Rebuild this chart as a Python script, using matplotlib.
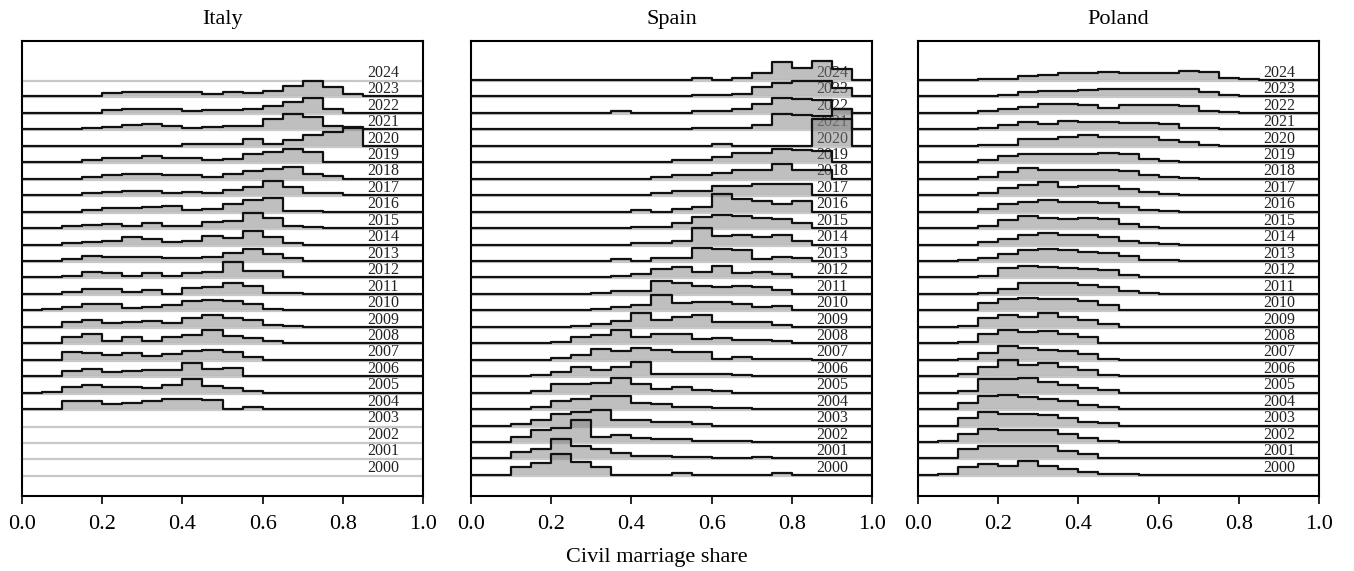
import numpy as np
import matplotlib
matplotlib.use('Agg')
import matplotlib.pyplot as plt

plt.rcParams['font.family'] = ['Liberation Serif', 'DejaVu Serif']

years = list(range(2000, 2025))
bin_edges = np.linspace(0, 1, 21)   # 20 bins of 0.05
xticks = [0.0, 0.2, 0.4, 0.6, 0.8, 1.0]

# histogram density per 0.05 bin of civil marriage share (years missing = no data)
italy = {
    2004: [0, 0, 2.1, 2.1, 1.4, 1.8, 2.3, 2.7, 2.9, 2.5, 0, 0.5, 0, 0, 0, 0, 0, 0, 0, 0],
    2005: [0, 0.3, 1.5, 2.1, 1.6, 1.5, 1.2, 2.1, 3.6, 1.9, 1.2, 0.5, 0, 0, 0, 0, 0, 0, 0, 0],
    2006: [0, 0, 1.4, 1.9, 1.2, 1.4, 1.6, 1.8, 3.5, 2.1, 2.3, 0, 0, 0, 0, 0, 0, 0, 0, 0],
    2007: [0, 0, 2.1, 1.8, 1.2, 1.9, 1.0, 1.6, 2.5, 2.8, 2.1, 0.7, 0, 0, 0, 0, 0, 0, 0, 0],
    2008: [0, 0, 1.6, 2.5, 0.7, 1.6, 0.5, 1.6, 2.3, 3.6, 2.0, 1.5, 0.6, 0, 0, 0, 0, 0, 0, 0],
    2009: [0, 0, 1.4, 1.8, 1.1, 1.3, 1.5, 1.1, 2.5, 3.2, 2.5, 2.0, 0.5, 0.3, 0, 0, 0, 0, 0, 0],
    2010: [0, 0.3, 0.9, 1.8, 1.7, 0.7, 0.9, 1.4, 2.7, 2.9, 2.7, 1.8, 0.5, 0, 0, 0, 0, 0, 0, 0],
    2011: [0, 0, 0.4, 1.4, 1.4, 0.5, 1.2, 0.1, 1.6, 1.8, 3.0, 2.3, 0.3, 0.2, 0, 0, 0, 0, 0, 0],
    2012: [0, 0, 0.5, 1.6, 1.1, 0.5, 1.2, 0.3, 1.1, 1.5, 4.3, 1.9, 1.8, 0, 0, 0, 0, 0, 0, 0],
    2013: [0, 0, 0.5, 1.4, 1.1, 1.1, 1.1, 0.7, 0.7, 1.1, 2.3, 3.2, 1.8, 0.7, 0, 0, 0, 0, 0, 0],
    2014: [0, 0, 0.3, 0.7, 1.1, 2.0, 1.4, 0.7, 0.9, 2.3, 1.8, 3.6, 2.0, 0.5, 0, 0, 0, 0, 0, 0],
    2015: [0, 0, 0.5, 0.9, 1.1, 0.7, 1.3, 0.5, 0.5, 1.6, 2.0, 4.1, 2.7, 0.7, 0.3, 0, 0, 0, 0, 0],
    2016: [0, 0, 0, 0.5, 0.9, 1.1, 1.4, 1.6, 0.5, 0.7, 2.0, 3.2, 3.6, 0.3, 0.2, 0, 0, 0, 0, 0],
    2017: [0, 0, 0, 0.5, 0.9, 1.2, 1.2, 0.7, 0.9, 0.5, 1.4, 2.3, 3.8, 2.3, 0.7, 0.5, 0, 0, 0, 0],
    2018: [0, 0, 0, 0.5, 1.1, 1.4, 1.4, 0.9, 0.9, 0.5, 1.4, 2.0, 2.7, 3.2, 1.4, 0.7, 0, 0, 0, 0],
    2019: [0, 0, 0, 0.5, 1.1, 1.1, 1.8, 1.1, 1.1, 0.7, 0.9, 2.3, 2.7, 3.5, 2.8, 0.2, 0, 0, 0, 0],
    2020: [0, 0, 0, 0, 0, 0, 0, 0, 0.4, 0.4, 0.4, 1.8, 0.4, 1.5, 3.0, 3.9, 5.1, 0, 0, 0],
    2021: [0, 0, 0, 0.5, 0.7, 1.2, 1.6, 0.9, 0.5, 0.7, 0.9, 0.9, 2.8, 4.2, 3.5, 0.9, 0.5, 0, 0, 0],
    2022: [0, 0, 0, 0, 0.7, 1.2, 1.2, 1.2, 0.5, 0.7, 0.9, 1.2, 1.9, 3.0, 4.1, 1.2, 0, 0, 0, 0],
    2023: [0, 0, 0, 0, 0.9, 1.3, 1.3, 1.3, 1.3, 0.7, 1.3, 0.9, 1.6, 2.9, 4.3, 2.7, 0.6, 0, 0, 0],
}

spain = {
    2000: [0, 0, 2.3, 3.4, 5.7, 3.6, 2.1, 0, 0, 0, 0.4, 0, 0, 0, 0, 0.4, 0, 0, 0, 0],
    2001: [0, 0, 1.8, 2.6, 5.2, 3.4, 2.5, 1.5, 0.6, 0.6, 0.4, 0.3, 0, 0, 0.4, 0, 0, 0, 0, 0],
    2002: [0, 0, 1.5, 3.2, 3.8, 5.9, 1.5, 1.8, 1.1, 0.9, 0.7, 0.3, 0.3, 0.4, 0, 0, 0, 0, 0, 0],
    2003: [0, 0, 0.4, 1.5, 3.2, 3.8, 4.3, 1.5, 1.5, 1.1, 1.1, 0.4, 0, 0, 0, 0, 0, 0, 0, 0],
    2004: [0, 0, 0, 0.7, 2.1, 2.7, 3.5, 3.5, 1.6, 1.4, 0.7, 0.7, 0.3, 0.3, 0, 0, 0, 0, 0, 0],
    2005: [0, 0, 0, 0.4, 2.4, 2.4, 2.7, 3.9, 2.5, 0.9, 1.6, 0.7, 0.5, 0, 0, 0, 0, 0, 0, 0],
    2006: [0, 0, 0, 0.3, 1.2, 2.4, 1.6, 2.5, 3.9, 0.5, 0.5, 0.5, 0.5, 0.3, 0, 0, 0, 0, 0, 0],
    2007: [0, 0, 0, 0, 0.5, 1.2, 3.0, 2.4, 3.3, 2.7, 2.1, 2.1, 0.3, 0.7, 0.3, 0.3, 0.3, 0, 0, 0],
    2008: [0, 0, 0, 0, 0.4, 1.6, 2.2, 3.5, 1.6, 2.5, 2.5, 1.2, 1.5, 0.9, 0.9, 0.7, 0, 0, 0, 0],
    2009: [0, 0, 0, 0, 0, 0.3, 0.9, 1.5, 3.8, 1.8, 2.7, 3.2, 1.4, 1.3, 1.2, 0.5, 0, 0, 0, 0],
    2010: [0, 0, 0, 0, 0, 0, 0.4, 0.9, 1.5, 4.1, 2.0, 2.3, 2.3, 1.8, 0.9, 1.3, 0, 0, 0, 0],
    2011: [0, 0, 0, 0, 0, 0, 0.3, 0.7, 0.8, 3.6, 2.9, 2.3, 2.0, 2.3, 1.8, 1.1, 0, 0, 0, 0],
    2012: [0, 0, 0, 0, 0, 0, 0, 0.5, 0.9, 2.3, 2.9, 1.5, 3.2, 1.1, 1.5, 0.9, 0.2, 0, 0, 0],
    2013: [0, 0, 0, 0, 0, 0, 0, 0.5, 0, 0.7, 0.7, 3.6, 3.4, 3.0, 0.5, 1.2, 0.7, 0, 0, 0],
    2014: [0, 0, 0, 0, 0, 0, 0, 0, 0.5, 0.5, 1.1, 4.5, 2.3, 2.6, 2.0, 2.6, 0.9, 0, 0, 0],
    2015: [0, 0, 0, 0, 0, 0, 0, 0, 0.3, 0.3, 1.4, 3.0, 3.5, 3.2, 2.8, 2.4, 1.4, 0, 0, 0],
    2016: [0, 0, 0, 0, 0, 0, 0, 0, 0.5, 0, 0.6, 1.4, 4.8, 3.4, 2.9, 2.0, 2.9, 0, 0, 0],
    2017: [0, 0, 0, 0, 0, 0, 0, 0, 0, 0.5, 1.2, 1.2, 2.6, 2.6, 3.0, 3.0, 3.0, 0, 0, 0],
    2018: [0, 0, 0, 0, 0, 0, 0, 0, 0, 0.5, 0.9, 0.9, 1.5, 2.5, 2.5, 3.9, 2.5, 2.3, 0, 0],
    2019: [0, 0, 0, 0, 0, 0, 0, 0, 0, 0, 0.5, 0.5, 1.4, 2.5, 2.5, 3.7, 3.3, 3.2, 0, 0],
    2020: [0, 0, 0, 0, 0, 0, 0, 0, 0, 0, 0, 0, 0.4, 0, 0, 0, 0, 7.3, 7.3, 0],
    2021: [0, 0, 0, 0, 0, 0, 0, 0, 0, 0, 0, 0.5, 0.5, 0.5, 1.2, 4.2, 3.8, 3.6, 5.7, 0],
    2022: [0, 0, 0, 0, 0, 0, 0, 0.5, 0, 0, 0, 0.5, 0.5, 1.1, 2.5, 4.2, 3.9, 3.5, 1.2, 0],
    2023: [0, 0, 0, 0, 0, 0, 0, 0, 0, 0, 0, 0.3, 0.3, 0.8, 2.5, 3.6, 4.3, 4.3, 2.2, 0],
    2024: [0, 0, 0, 0, 0, 0, 0, 0, 0, 0, 0, 0.5, 0, 0.5, 1.8, 4.9, 3.2, 5.3, 2.9, 0],
}

poland = {
    2000: [0, 0.2, 2.1, 3.0, 2.5, 3.8, 2.5, 1.6, 0.7, 0.2, 0.2, 0, 0, 0, 0, 0, 0, 0, 0, 0],
    2001: [0, 0.2, 2.7, 3.4, 3.5, 3.5, 3.4, 2.0, 1.1, 0.2, 0, 0, 0, 0, 0, 0, 0, 0, 0, 0],
    2002: [0, 0.2, 2.3, 3.6, 3.2, 3.2, 3.4, 2.3, 1.1, 0.2, 0, 0, 0, 0, 0, 0, 0, 0, 0, 0],
    2003: [0, 0, 2.0, 3.8, 3.2, 3.2, 3.0, 2.0, 0.9, 0.6, 0, 0, 0, 0, 0, 0, 0, 0, 0, 0],
    2004: [0, 0, 1.6, 3.5, 3.9, 3.4, 2.7, 2.1, 1.2, 0.5, 0, 0, 0, 0, 0, 0, 0, 0, 0, 0],
    2005: [0, 0, 0.5, 3.6, 3.6, 4.0, 3.0, 2.1, 1.2, 0.6, 0, 0, 0, 0, 0, 0, 0, 0, 0, 0],
    2006: [0, 0, 0.7, 2.4, 4.4, 3.2, 3.5, 2.5, 1.6, 0.3, 0, 0, 0, 0, 0, 0, 0, 0, 0, 0],
    2007: [0, 0, 0.3, 1.9, 3.7, 3.3, 2.8, 2.4, 1.5, 0.3, 0, 0, 0, 0, 0, 0, 0, 0, 0, 0],
    2008: [0, 0, 0.3, 2.5, 3.6, 3.2, 3.4, 2.5, 1.6, 0.2, 0, 0, 0, 0, 0, 0, 0, 0, 0, 0],
    2009: [0, 0, 0.3, 2.3, 3.2, 2.7, 3.9, 2.7, 1.8, 0.9, 0, 0, 0, 0, 0, 0, 0, 0, 0, 0],
    2010: [0, 0, 0, 2.0, 3.0, 3.4, 3.2, 3.0, 2.5, 1.6, 0.2, 0, 0, 0, 0, 0, 0, 0, 0, 0],
    2011: [0, 0, 0, 0.3, 1.4, 3.0, 3.0, 3.0, 2.5, 1.8, 0.9, 0.3, 0, 0, 0, 0, 0, 0, 0, 0],
    2012: [0, 0, 0, 0.5, 2.7, 3.0, 2.9, 2.7, 2.3, 2.1, 0.7, 0.2, 0, 0, 0, 0, 0, 0, 0, 0],
    2013: [0, 0, 0.2, 0.9, 2.0, 2.9, 3.2, 2.9, 2.5, 2.2, 1.4, 0.4, 0.2, 0, 0, 0, 0, 0, 0, 0],
    2014: [0, 0, 0, 0.6, 1.5, 2.6, 3.2, 2.6, 2.5, 2.2, 0.9, 0.5, 0.2, 0, 0, 0, 0, 0, 0, 0],
    2015: [0, 0, 0, 0.6, 2.1, 3.3, 2.8, 2.5, 2.8, 2.5, 1.2, 0.3, 0, 0, 0, 0, 0, 0, 0, 0],
    2016: [0, 0, 0, 0.6, 2.1, 2.7, 3.1, 2.7, 2.7, 2.5, 1.2, 0.5, 0.3, 0, 0, 0, 0, 0, 0, 0],
    2017: [0, 0, 0, 0.6, 2.0, 2.7, 3.6, 2.3, 2.5, 2.4, 1.8, 0.9, 0.3, 0, 0, 0, 0, 0, 0, 0],
    2018: [0, 0, 0, 0.6, 1.9, 3.0, 2.5, 2.5, 2.3, 2.3, 2.1, 1.1, 0.5, 0.3, 0, 0, 0, 0, 0, 0],
    2019: [0, 0, 0, 0.5, 1.7, 2.4, 2.4, 2.4, 2.4, 2.6, 2.2, 1.0, 0.4, 0.2, 0, 0, 0, 0, 0, 0],
    2020: [0, 0, 0, 0.2, 0.3, 1.9, 1.9, 2.5, 3.0, 2.5, 2.4, 2.4, 1.6, 1.0, 0.3, 0, 0, 0, 0, 0],
    2021: [0, 0, 0, 0.5, 1.2, 2.1, 1.6, 2.3, 1.9, 1.9, 1.8, 1.7, 1.6, 0.5, 0.3, 0, 0, 0, 0, 0],
    2022: [0, 0, 0, 0.5, 1.0, 1.6, 2.4, 2.5, 2.1, 1.4, 2.3, 2.1, 2.1, 1.9, 0.5, 0.3, 0, 0, 0, 0],
    2023: [0, 0, 0, 0.2, 0.4, 1.2, 1.4, 1.6, 1.8, 2.0, 2.0, 2.0, 2.0, 2.0, 1.1, 0.3, 0, 0, 0, 0],
    2024: [0, 0, 0, 0.3, 0.3, 1.2, 1.5, 2.0, 1.8, 2.2, 1.8, 1.8, 2.0, 2.5, 2.2, 0.5, 0.2, 0, 0, 0],
}

countries = ['Italy', 'Spain', 'Poland']
panels = [italy, spain, poland]

W, H = 1354, 571
fig = plt.figure(figsize=(W / 100, H / 100), dpi=100)

lefts = [22, 471, 918]   # px
ax_w = 401
ax_bottom = 496
ax_top = 41
density_per_row = 4.5

for name, data, lx in zip(countries, panels, lefts):
    ax = fig.add_axes([lx / W, 1 - ax_bottom / H, ax_w / W, (ax_bottom - ax_top) / H])
    for i, yr in enumerate(years):
        ax.axhline(i - 0.06, color='#c8c8c8', lw=1.6, zorder=1)
        ax.text(0.86, i + 0.2, str(yr), fontsize=11.5, color='#222222',
                va='baseline', ha='left', zorder=1)
        if yr in data:
            h = np.array(data[yr]) / density_per_row
            yy = np.append(i + h, i + h[-1])
            ax.fill_between(bin_edges, i, yy, step='post', color='gray',
                            alpha=0.5, lw=0, zorder=2)
            ax.step(bin_edges, yy, where='post', color='#111111', lw=1.6, zorder=3)
    ax.set_xlim(0, 1)
    ax.set_ylim(-1.28, 26.37)
    ax.set_yticks([])
    ax.set_xticks(xticks)
    ax.set_xticklabels(['%.1f' % t for t in xticks])
    ax.tick_params(axis='x', labelsize=16, length=6, width=1.2, pad=8)
    for s in ax.spines.values():
        s.set_linewidth(1.5)
    ax.set_title(name, fontsize=16, pad=12)

fig.text(657 / W, 1 - 562 / H, 'Civil marriage share', ha='center',
         va='baseline', fontsize=16)

fig.savefig('out.png', dpi=100)
